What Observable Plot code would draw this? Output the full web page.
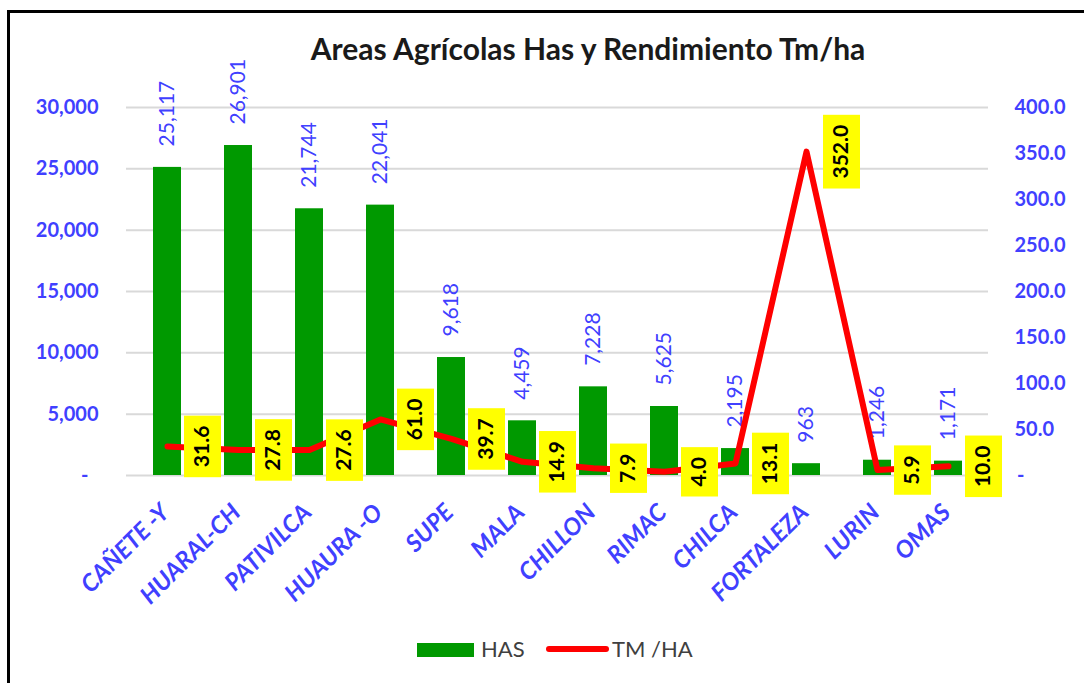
<!DOCTYPE html>
<html>
<head>
<meta charset="utf-8">
<script src="https://cdn.jsdelivr.net/npm/d3@7"></script>
<script src="https://cdn.jsdelivr.net/npm/@observablehq/plot@0.6"></script>
<style>
html, body { margin: 0; padding: 0; background: #fff; }
#wrap { position: relative; width: 1084px; height: 683px; overflow: hidden; font-family: Lato, "Open Sans", sans-serif; background: #fff; }
#frame { position: absolute; left: 7px; top: 10px; width: 1200px; height: 800px; border: 3px solid #000; box-sizing: border-box; }
#title { position: absolute; left: 0; top: 30px; width: 1176px; text-align: center; font-size: 30px; line-height: 1.2; font-weight: bold; color: #1a1a1a; white-space: nowrap; }
#chart { position: absolute; left: 0; top: 0; }
.leg { position: absolute; }
.legtxt { position: absolute; font-size: 22px; line-height: 22px; color: #404040; white-space: nowrap; }
</style>
</head>
<body>
<div id="wrap">
  <div id="frame"></div>
  <div id="title">Areas Agrícolas Has y Rendimiento Tm/ha</div>
  <div id="chart"></div>
  <div class="leg" style="left:417px;top:643px;width:57px;height:14px;background:#009900;"></div>
  <div class="legtxt" style="left:481px;top:638px;">HAS</div>
  <div class="leg" style="left:546px;top:646px;width:63px;height:6px;border-radius:3px;background:#ff0000;"></div>
  <div class="legtxt" style="left:612px;top:638px;">TM /HA</div>
</div>
<script>
const categories = ["CAÑETE -Y", "HUARAL-CH", "PATIVILCA", "HUAURA -O", "SUPE", "MALA", "CHILLON", "RIMAC", "CHILCA", "FORTALEZA", "LURIN", "OMAS"];
const hasValues = [25117, 26901, 21744, 22041, 9618, 4459, 7228, 5625, 2195, 963, 1246, 1171];
const tmHaValues = [31.6, 27.8, 27.6, 61.0, 39.7, 14.9, 7.9, 4.0, 13.1, 352.0, 5.9, 10.0];
const leftTicks = [0, 5000, 10000, 15000, 20000, 25000, 30000];
const rightTicks = [0, 50, 100, 150, 200, 250, 300, 350, 400];

const leftMax = 30000, rightMax = 400;
const ratio = leftMax / rightMax;
const rows = categories.map((c, i) => ({cat: c, has: hasValues[i], tm: tmHaValues[i]}));
const blue = "#4040ff";
const fmtInt = d3.format(",");

const plot = Plot.plot({
  width: 1084,
  height: 620,
  marginTop: 107,
  marginBottom: 145,
  marginLeft: 126,
  marginRight: 96,
  style: {fontFamily: "Lato, 'Open Sans', sans-serif", background: "transparent", overflow: "visible"},
  x: {type: "band", domain: categories, paddingInner: 0.61, paddingOuter: 0.305, axis: null},
  y: {domain: [0, leftMax], axis: null},
  marks: [
    Plot.ruleY(leftTicks, {stroke: "#d9d9d9", strokeWidth: 2}),
    Plot.axisY(leftTicks, {anchor: "left", label: null, tickSize: 0, tickPadding: 28, fill: blue, fontSize: 20, fontWeight: "bold",
      tickFormat: d => d === 0 ? "-\u2002" : fmtInt(d)}),
    Plot.axisY(rightTicks.map(v => v * ratio), {anchor: "right", label: null, tickSize: 0, tickPadding: 26, fill: blue, fontSize: 20, fontWeight: "bold",
      tickFormat: d => d === 0 ? "\u2009-" : (d / ratio).toFixed(1)}),
    Plot.barY(rows, {x: "cat", y: "has", fill: "#009900"}),
    Plot.text(rows, {x: "cat", y: "has", text: d => fmtInt(d.has), rotate: -90, textAnchor: "start", lineAnchor: "middle",
      dy: -21, fill: blue, fontSize: 21}),
    Plot.line(rows, {x: "cat", y: d => d.tm * ratio, stroke: "#ff0000", strokeWidth: 6, strokeLinejoin: "round", strokeLinecap: "round"}),
    Plot.text(rows, {x: "cat", y: d => d.tm * ratio, text: d => d.tm.toFixed(1), rotate: -90, lineAnchor: "middle",
      dx: 35, fill: "#000", fontSize: 21, fontWeight: "bold", ariaDescription: "ylab"}),
    Plot.text(categories, {x: d => d, frameAnchor: "bottom", text: d => d, rotate: -45, textAnchor: "end", lineAnchor: "middle",
      dx: -2, dy: 33, fill: blue, fontSize: 24, fontWeight: "bold", fontStyle: "italic"})
  ]
});

document.getElementById("chart").append(plot);

// yellow boxes behind the yield labels
const ns = "http://www.w3.org/2000/svg";
const lg = plot.querySelector('g[aria-description="ylab"]');
if (lg) {
  lg.querySelectorAll("text").forEach(t => {
    const b = t.getBBox();
    const padX = 10, h = 37;
    const r = document.createElementNS(ns, "rect");
    r.setAttribute("x", b.x - padX);
    r.setAttribute("width", b.width + 2 * padX);
    r.setAttribute("y", -h / 2);
    r.setAttribute("height", h);
    r.setAttribute("fill", "#ffff00");
    r.setAttribute("stroke", "none");
    const tr = t.getAttribute("transform");
    if (tr) r.setAttribute("transform", tr);
    t.parentNode.insertBefore(r, t);
  });
}
</script>
</body>
</html>
